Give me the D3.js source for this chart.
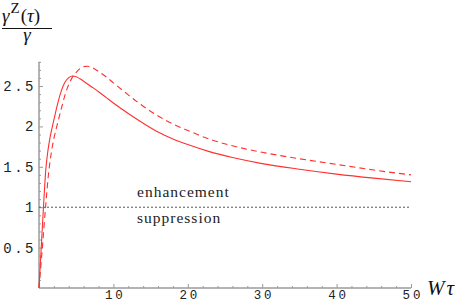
<!DOCTYPE html>
<html><head><meta charset="utf-8">
<script src="https://cdn.jsdelivr.net/npm/d3@7"></script>
<style>
body{margin:0;background:#fff;}
svg{display:block;}
.tick text{font-family:"Liberation Mono",monospace;font-size:12.5px;letter-spacing:2.8px;fill:#222;}
</style></head>
<body>
<script>
// Data
const solidX = [0,0.3,0.6,0.9,1.2,1.5,2,2.5,3,3.5,4,4.5,5,5.5,6,7,8,9,10,12,14,16,18,20,23,26,30,35,40,45,50];
const solidY = [0,0.5,1.0,1.45,1.70,1.87,2.08,2.28,2.44,2.55,2.605,2.625,2.615,2.59,2.56,2.495,2.43,2.36,2.29,2.16,2.04,1.93,1.845,1.775,1.685,1.615,1.54,1.47,1.41,1.36,1.316];
const dashX = [0,0.45,0.9,1.3,1.7,2,2.5,3,3.5,4,4.5,5,5.5,6,6.5,7,8,9,10,12,14,16,18,20,23,26,30,35,40,45,50];
const dashY = [0,0.5,1.02,1.43,1.70,1.85,2.04,2.22,2.39,2.52,2.61,2.67,2.715,2.74,2.745,2.735,2.68,2.615,2.54,2.39,2.25,2.13,2.03,1.95,1.84,1.76,1.68,1.60,1.53,1.46,1.40];
const xMajor = [10,20,30,40,50];
const xMinor = [2,4,6,8,12,14,16,18,22,24,26,28,32,34,36,38,42,44,46,48];
const yMajor = [0.5,1,1.5,2,2.5];
const yMinor = [0.1,0.2,0.3,0.4,0.6,0.7,0.8,0.9,1.1,1.2,1.3,1.4,1.6,1.7,1.8,1.9,2.1,2.2,2.3,2.4,2.6,2.7,2.8];
const refLevel = 1;
const labels = ["enhancement","suppression"];

const W = 463, H = 303;
const svg = d3.select("body").append("svg").attr("width",W).attr("height",H);
const x = d3.scaleLinear().domain([0,50]).range([39,411]);
const y = d3.scaleLinear().domain([0,2.8]).range([288,61.8]);
const axisColor = "#9a9a9a";

// x axis
const gx = svg.append("g").attr("transform",`translate(0,${y(0)})`);
gx.call(d3.axisBottom(x).tickValues(xMinor).tickSize(-2).tickFormat(""));
const gx2 = svg.append("g").attr("transform",`translate(0,${y(0)})`);
gx2.call(d3.axisBottom(x).tickValues(xMajor).tickSize(-4).tickPadding(2).tickFormat(d3.format("d")));
gx2.selectAll(".tick text").attr("dx","1.4px");
[gx,gx2].forEach(g=>{g.select(".domain").attr("stroke",axisColor).attr("d",`M${x(0)},0H${x(50)}`);g.selectAll("line").attr("stroke",axisColor);});

// y axis
const gy = svg.append("g").attr("transform",`translate(${x(0)},0)`);
gy.call(d3.axisLeft(y).tickValues(yMinor).tickSize(-2).tickFormat(""));
const gy2 = svg.append("g").attr("transform",`translate(${x(0)},0)`);
gy2.call(d3.axisLeft(y).tickValues(yMajor).tickSize(-4).tickPadding(3).tickFormat(d=>String(d)));
gy2.selectAll(".tick text").style("font-size","14px").style("letter-spacing","2.5px");
[gy,gy2].forEach(g=>{g.select(".domain").attr("stroke",axisColor).attr("d",`M0,${y(0)}V${y(2.8)}`);g.selectAll("line").attr("stroke",axisColor);});

// reference line
svg.append("line").attr("x1",x(0)).attr("x2",x(50)).attr("y1",y(refLevel)).attr("y2",y(refLevel))
  .attr("stroke","#555").attr("stroke-width",1).attr("stroke-dasharray","2,2");

const line = d3.line().x(d=>x(d[0])).y(d=>y(d[1])).curve(d3.curveMonotoneX);
svg.append("path").datum(solidX.map((v,i)=>[v,solidY[i]])).attr("d",line)
  .attr("fill","none").attr("stroke","#ff3030").attr("stroke-width",1.1);
svg.append("path").datum(dashX.map((v,i)=>[v,dashY[i]])).attr("d",line)
  .attr("fill","none").attr("stroke","#ff3030").attr("stroke-width",1.1).attr("stroke-dasharray","6,4");

// labels
const serif = "'Liberation Serif','DejaVu Serif',serif";
svg.append("text").attr("x",137).attr("y",y(refLevel)-10).attr("font-family",serif).attr("font-size",15.5).attr("letter-spacing","1px").attr("fill","#222").text(labels[0]);
svg.append("text").attr("x",137).attr("y",y(refLevel)+16).attr("font-family",serif).attr("font-size",15.5).attr("letter-spacing","1px").attr("fill","#222").text(labels[1]);

// y label (fraction)
const num = svg.append("text").attr("x",2).attr("y",22).attr("font-family",serif).attr("font-size",19).attr("fill","#111");
num.append("tspan").attr("font-style","italic").text("γ");
num.append("tspan").attr("dy",-9).attr("dx",1).attr("font-size",15).text("Z");
num.append("tspan").attr("dy",9).attr("dx",1).text("(");
num.append("tspan").attr("font-style","italic").text("τ");
num.append("tspan").text(")");
svg.append("line").attr("x1",2).attr("x2",52).attr("y1",28.5).attr("y2",28.5).attr("stroke","#111").attr("stroke-width",1);
svg.append("text").attr("x",27).attr("y",41).attr("text-anchor","middle").attr("font-family",serif).attr("font-style","italic").attr("font-size",19).attr("fill","#111").text("γ");

// x label
const xl = svg.append("text").attr("x",427).attr("y",295).attr("font-family",serif).attr("font-size",21).attr("fill","#111");
xl.append("tspan").attr("font-style","italic").text("W");
xl.append("tspan").attr("font-style","italic").attr("dx",2).text("τ");
</script>
</body></html>
